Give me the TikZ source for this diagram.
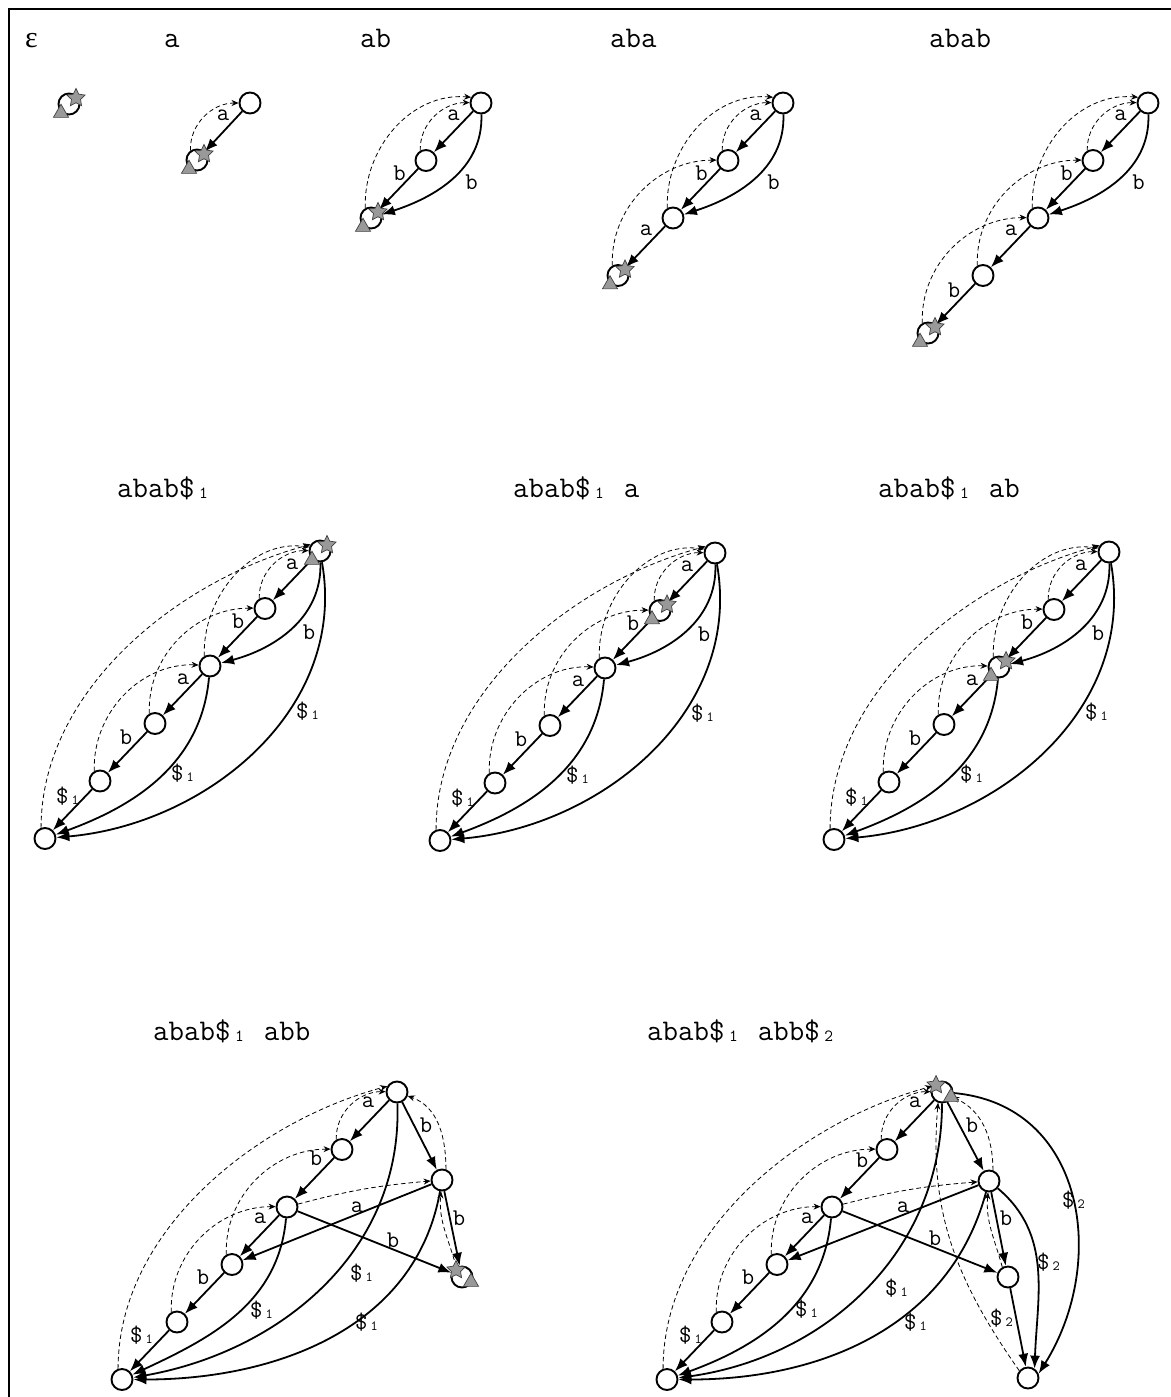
\documentclass[tikz,border=0pt]{standalone}
\usepackage{fontspec}
\usetikzlibrary{arrows.meta,shapes.geometric}
\newfontfamily\seriff{Liberation Serif}
\newcommand\tsub[1]{\makebox[0.6em][c]{\raisebox{-1.5pt}{\fontsize{17}{17}\selectfont #1}}}
\newcommand\lsub[1]{\makebox[0.55em][c]{\raisebox{-1.5pt}{\fontsize{14}{14}\selectfont #1}}}
\tikzset{
  st/.style={circle, draw, line width=1.9pt, fill=white, minimum size=21pt, inner sep=0pt},
  trans/.style={line width=1.8pt, -{Latex[length=13pt,width=10pt]}},
  slink/.style={line width=0.8pt, dash pattern=on 4.5pt off 3pt, -{Stealth[length=7pt,width=6pt]}},
  lbl/.style={font=\ttfamily\fontsize{24}{24}\selectfont, inner sep=0pt},
  ttl/.style={font=\ttfamily\fontsize{30}{30}\selectfont, anchor=base west, inner sep=0pt},
  starm/.style={star, star points=5, star point ratio=2.0, fill=gray!80, draw=black!75, line width=0.7pt, minimum size=19pt, inner sep=0pt},
  trim/.style={regular polygon, regular polygon sides=3, fill=gray!80, draw=black!75, line width=0.7pt, minimum size=17.5pt, inner sep=0pt},
}
% marker: star upper right, triangle lower left
\newcommand\mkA[1]{%
  \node[starm] (#1s) at ([shift={(7,6)}]#1) {};
  \node[trim] (#1t) at ([shift={(-8,-9)}]#1) {};}
% marker: star upper left, triangle lower right
\newcommand\mkB[1]{%
  \node[starm] (#1s) at ([shift={(-6,7)}]#1) {};
  \node[trim] (#1t) at ([shift={(9,-5)}]#1) {};}
% second-row panel: #1 prefix, #2 root position
\newcommand\rowtwo[2]{%
\begin{scope}[shift={#2}]
  \node[st] (#1r) at (0,0) {};
  \node[st] (#1n1) at (-55,-57.5) {};
  \node[st] (#1n2) at (-110,-115) {};
  \node[st] (#1n3) at (-165,-172.5) {};
  \node[st] (#1n4) at (-220,-230) {};
  \node[st] (#1n5) at (-275,-287.5) {};
  \draw[slink] (#1n1.120) to[out=92,in=180] (#1r.178);
  \draw[slink] (#1n2.120) to[out=92,in=172] (#1r.160);
  \draw[slink] (#1n5.110) to[out=90,in=195,looseness=0.9] (#1r.145);
  \draw[slink] (#1n3.120) to[out=92,in=180] (#1n1.178);
  \draw[slink] (#1n4.120) to[out=92,in=178] (#1n2.175);
  \draw[trans] (#1r) -- (#1n1) node[lbl] at (-28,-13) {a};
  \draw[trans] (#1n1) -- (#1n2) node[lbl] at (-82,-70) {b};
  \draw[trans] (#1r) to[out=-88,in=15] (#1n2) node[lbl] at (-11,-81) {b};
  \draw[trans] (#1n2) -- (#1n3) node[lbl] at (-137,-128) {a};
  \draw[trans] (#1n3) -- (#1n4) node[lbl] at (-194,-186) {b};
  \draw[trans] (#1n4) -- (#1n5) node[lbl] at (-251,-245) {\$\lsub{1}};
  \draw[trans] (#1n2) to[out=-95,in=20] (#1n5) node[lbl] at (-136,-222) {\$\lsub{1}};
  \draw[trans] (#1r) to[out=-80,in=5] (#1n5) node[lbl] at (-11,-160) {\$\lsub{1}};
\end{scope}}
\begin{document}
\begin{tikzpicture}[x=1pt,y=1pt]
\useasboundingbox (0,0) rectangle (1170,-1397);
\draw[line width=2.6pt] (1172,-9) -- (9,-9) -- (9,-1399);

% ---------- row 1 ----------
\node[ttl] (t0) at (25,-48) {\seriff\fontsize{30}{30}\selectfont ε};
\node[ttl] (t1) at (164,-48) {a};
\node[ttl] (t2) at (360,-48) {ab};
\node[ttl] (t3) at (610,-48) {aba};
\node[ttl] (t4) at (929,-48) {abab};

\node[st] (p0r) at (69,-104) {};
\mkA{p0r}

\begin{scope}[shift={(250,-103)}]
  \node[st] (p1r) at (0,0) {};
  \node[st] (p1n1) at (-53,-57) {};
  \draw[slink] (p1n1.125) to[out=92,in=180] (p1r.180);
  \draw[trans] (p1r) -- (p1n1) node[lbl] at (-27,-12) {a};
  \mkA{p1n1}
\end{scope}

\begin{scope}[shift={(481,-103)}]
  \node[st] (p2r) at (0,0) {};
  \node[st] (p2n1) at (-55,-57.5) {};
  \node[st] (p2n2) at (-110,-115) {};
  \draw[slink] (p2n1.120) to[out=92,in=180] (p2r.178);
  \draw[slink] (p2n2.120) to[out=92,in=175] (p2r.150);
  \draw[trans] (p2r) -- (p2n1) node[lbl] at (-27.5,-12) {a};
  \draw[trans] (p2n1) -- (p2n2) node[lbl] at (-81.5,-70) {b};
  \draw[trans] (p2r) to[out=-88,in=18] (p2n2) node[lbl] at (-9.5,-79.5) {b};
  \mkA{p2n2}
\end{scope}

\begin{scope}[shift={(783,-103)}]
  \node[st] (p3r) at (0,0) {};
  \node[st] (p3n1) at (-55,-57.5) {};
  \node[st] (p3n2) at (-110,-115) {};
  \node[st] (p3n3) at (-165,-172.5) {};
  \draw[slink] (p3n1.120) to[out=92,in=180] (p3r.178);
  \draw[slink] (p3n2.120) to[out=92,in=175] (p3r.150);
  \draw[slink] (p3n3.120) to[out=92,in=180] (p3n1.178);
  \draw[trans] (p3r) -- (p3n1) node[lbl] at (-27.5,-12) {a};
  \draw[trans] (p3n1) -- (p3n2) node[lbl] at (-81.5,-70) {b};
  \draw[trans] (p3r) to[out=-88,in=18] (p3n2) node[lbl] at (-9.5,-79.5) {b};
  \draw[trans] (p3n2) -- (p3n3) node[lbl] at (-137,-127) {a};
  \mkA{p3n3}
\end{scope}

\begin{scope}[shift={(1148,-103)}]
  \node[st] (p4r) at (0,0) {};
  \node[st] (p4n1) at (-55,-57.5) {};
  \node[st] (p4n2) at (-110,-115) {};
  \node[st] (p4n3) at (-165,-172.5) {};
  \node[st] (p4n4) at (-220,-230) {};
  \draw[slink] (p4n1.120) to[out=92,in=180] (p4r.178);
  \draw[slink] (p4n2.120) to[out=92,in=175] (p4r.150);
  \draw[slink] (p4n3.120) to[out=92,in=180] (p4n1.178);
  \draw[slink] (p4n4.120) to[out=92,in=180] (p4n2.178);
  \draw[trans] (p4r) -- (p4n1) node[lbl] at (-27.5,-12) {a};
  \draw[trans] (p4n1) -- (p4n2) node[lbl] at (-81.5,-70) {b};
  \draw[trans] (p4r) to[out=-88,in=18] (p4n2) node[lbl] at (-9.5,-79.5) {b};
  \draw[trans] (p4n2) -- (p4n3) node[lbl] at (-137,-127) {a};
  \draw[trans] (p4n3) -- (p4n4) node[lbl] at (-194,-187) {b};
  \mkA{p4n4}
\end{scope}

% ---------- row 2 ----------
\node[ttl] (t5) at (117,-497) {abab\$\tsub{1}};
\node[ttl] (t6) at (513,-497) {abab\$\tsub{1} a};
\node[ttl] (t7) at (878,-497) {abab\$\tsub{1} ab};
\rowtwo{q1}{(320,-551)}
\mkA{q1r}
\rowtwo{q2}{(715,-553)}
\mkA{q2n1}
\rowtwo{q3}{(1109,-552)}
\mkA{q3n2}

% ---------- row 3 ----------
\node[ttl] (t8) at (153,-1040) {abab\$\tsub{1} abb};
\node[ttl] (t9) at (647,-1040) {abab\$\tsub{1} abb\$\tsub{2}};

\begin{scope}[shift={(397,-1092)}]
  \node[st] (r1r) at (0,0) {};
  \node[st] (r1n1) at (-55,-57.5) {};
  \node[st] (r1n2) at (-110,-115) {};
  \node[st] (r1n3) at (-165,-172.5) {};
  \node[st] (r1n4) at (-220,-230) {};
  \node[st] (r1n5) at (-275,-287.5) {};
  \node[st] (r1m) at (45,-88) {};
  \node[st] (r1k) at (65,-185) {};
  \draw[slink] (r1n1.120) to[out=92,in=180] (r1r.178);
  \draw[slink] (r1n5.110) to[out=90,in=195,looseness=0.9] (r1r.150);
  \draw[slink] (r1n3.120) to[out=92,in=180] (r1n1.178);
  \draw[slink] (r1n4.120) to[out=92,in=180] (r1n2.178);
  \draw[slink] (r1n2) to[bend left=5] (r1m);
  \draw[slink] (r1m.70) to[out=90,in=-20] (r1r);
  \draw[slink] (r1k.120) to[out=105,in=-95] (r1m);
  \draw[trans] (r1r) -- (r1n1) node[lbl] at (-29,-10) {a};
  \draw[trans] (r1r) -- (r1m) node[lbl] at (29,-33) {b};
  \draw[trans] (r1n1) -- (r1n2) node[lbl] at (-81,-66) {b};
  \draw[trans] (r1m) -- (r1n3) node[lbl] at (-40,-115) {a};
  \draw[trans] (r1n2) -- (r1n3) node[lbl] at (-137,-126) {a};
  \draw[trans] (r1m) -- (r1k) node[lbl] at (62,-126) {b};
  \draw[trans] (r1n2) -- (r1k) node[lbl] at (-4,-148) {b};
  \draw[trans] (r1n3) -- (r1n4) node[lbl] at (-194,-185) {b};
  \draw[trans] (r1n4) -- (r1n5) node[lbl] at (-254,-243) {\$\lsub{1}};
  \draw[trans] (r1n2) to[out=-95,in=25] (r1n5) node[lbl] at (-134,-218) {\$\lsub{1}};
  \draw[trans] (r1r) to[out=-88,in=10] (r1n5) node[lbl] at (-34,-181) {\$\lsub{1}};
  \draw[trans] (r1m) to[out=-100,in=0] (r1n5) node[lbl] at (-29,-230) {\$\lsub{1}};
  \mkB{r1k}
\end{scope}

\begin{scope}[shift={(942,-1092)}]
  \node[st] (r2r) at (0,0) {};
  \node[st] (r2n1) at (-55,-57.5) {};
  \node[st] (r2n2) at (-110,-115) {};
  \node[st] (r2n3) at (-165,-172.5) {};
  \node[st] (r2n4) at (-220,-230) {};
  \node[st] (r2n5) at (-275,-287.5) {};
  \node[st] (r2m) at (47,-89) {};
  \node[st] (r2k) at (66,-185) {};
  \node[st] (r2z) at (86,-286) {};
  \draw[slink] (r2n1.120) to[out=92,in=180] (r2r.178);
  \draw[slink] (r2n5.110) to[out=90,in=195,looseness=0.9] (r2r.150);
  \draw[slink] (r2n3.120) to[out=92,in=180] (r2n1.178);
  \draw[slink] (r2n4.120) to[out=92,in=180] (r2n2.178);
  \draw[slink] (r2n2) to[bend left=5] (r2m);
  \draw[slink] (r2m.70) to[out=90,in=-25] (r2r);
  \draw[slink] (r2k.120) to[out=105,in=-95] (r2m);
  \draw[slink] (r2z.140) to[out=125,in=-95] (r2r.250);
  \draw[trans] (r2r) -- (r2n1) node[lbl] at (-27,-10) {a};
  \draw[trans] (r2r) -- (r2m) node[lbl] at (30,-33) {b};
  \draw[trans] (r2n1) -- (r2n2) node[lbl] at (-80,-68) {b};
  \draw[trans] (r2m) -- (r2n3) node[lbl] at (-39,-115) {a};
  \draw[trans] (r2n2) -- (r2n3) node[lbl] at (-135,-126) {a};
  \draw[trans] (r2m) -- (r2k) node[lbl] at (64,-126) {b};
  \draw[trans] (r2n2) -- (r2k) node[lbl] at (-7,-146) {b};
  \draw[trans] (r2n3) -- (r2n4) node[lbl] at (-194,-185) {b};
  \draw[trans] (r2n4) -- (r2n5) node[lbl] at (-250,-243) {\$\lsub{1}};
  \draw[trans] (r2n2) to[out=-95,in=20] (r2n5) node[lbl] at (-134,-217) {\$\lsub{1}};
  \draw[trans] (r2r) to[out=-90,in=8] (r2n5) node[lbl] at (-44,-196) {\$\lsub{1}};
  \draw[trans] (r2m) to[out=-105,in=0] (r2n5) node[lbl] at (-25,-230) {\$\lsub{1}};
  \draw[trans] (r2k) -- (r2z) node[lbl] at (61,-226) {\$\lsub{2}};
  \draw[trans] (r2m) to[out=-40,in=88] (r2z.55) node[lbl] at (108,-170) {\$\lsub{2}};
  \draw[trans] (r2r) to[out=-5,in=58,looseness=1.15] (r2z.22) node[lbl] at (133,-108) {\$\lsub{2}};
  \mkB{r2r}
\end{scope}
\end{tikzpicture}
\end{document}
